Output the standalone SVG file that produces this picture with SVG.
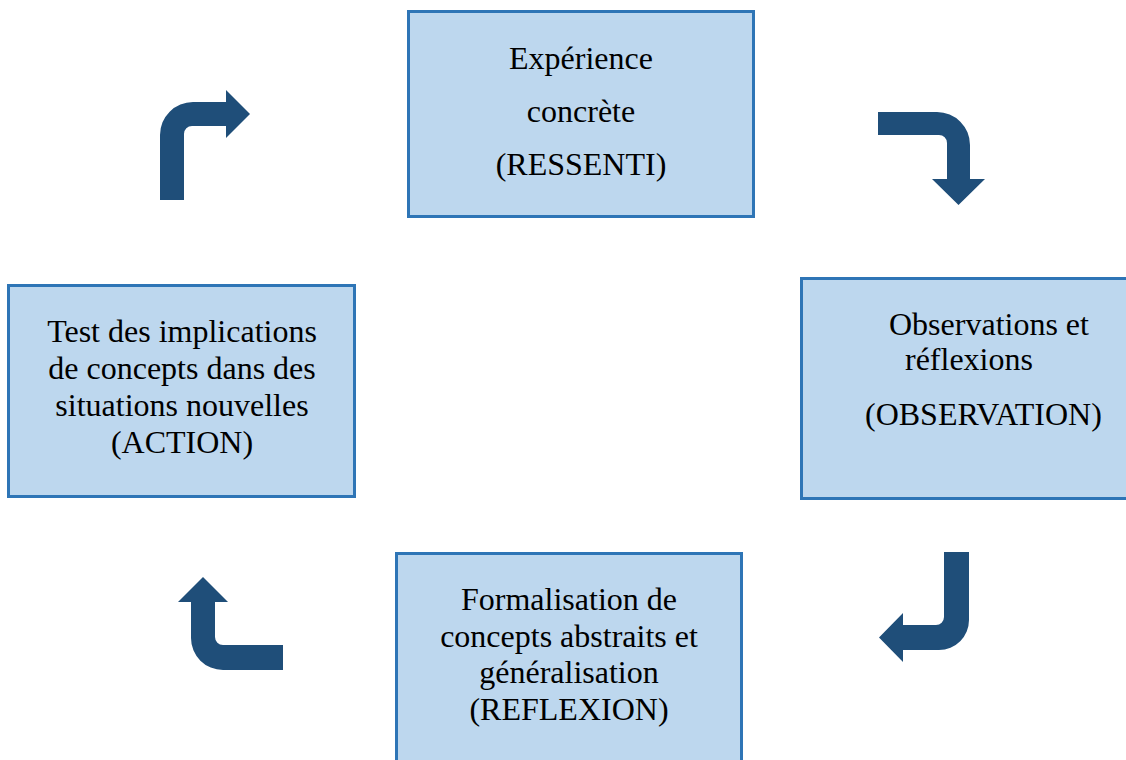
<svg xmlns="http://www.w3.org/2000/svg" width="1126" height="760" viewBox="0 0 1126 760">
<style>
.box{fill:#BDD7EE;stroke:#2E75B6;stroke-width:3}
.t{font-family:"Liberation Serif","Times New Roman",serif;font-size:32px;fill:#000}
.c{text-anchor:middle}
.arr{fill:#1F4E79;stroke:none}
</style>
<rect width="1126" height="760" fill="#fff"/>
<g id="node-ressenti">
<rect class="box" x="408.5" y="11.5" width="345" height="205"/>
<text class="t c" x="581" y="69">Expérience</text>
<text class="t c" x="581" y="122">concrète</text>
<text class="t c" x="581" y="175">(RESSENTI)</text>
</g>
<g id="node-observation">
<rect class="box" x="801.5" y="278.5" width="340" height="220"/>
<text class="t" x="889" y="335">Observations et</text>
<text class="t" x="905" y="370">réflexions</text>
<text class="t" x="865" y="425">(OBSERVATION)</text>
</g>
<g id="node-reflexion">
<rect class="box" x="396.5" y="553.5" width="345" height="220"/>
<text class="t c" x="569" y="610">Formalisation de</text>
<text class="t c" x="569" y="647">concepts abstraits et</text>
<text class="t c" x="569" y="683">généralisation</text>
<text class="t c" x="569" y="720">(REFLEXION)</text>
</g>
<g id="node-action">
<rect class="box" x="8.5" y="285.5" width="346" height="211"/>
<text class="t c" x="182" y="342">Test des implications</text>
<text class="t c" x="182" y="379">de concepts dans des</text>
<text class="t c" x="182" y="416">situations nouvelles</text>
<text class="t c" x="182" y="453">(ACTION)</text>
</g>
<g id="connectors">
<path class="arr" d="M878,112 L937,112 A33,33 0 0 1 970,145 L970,179 L985,179 L958.5,205 L932,179 L947,179 L947,143 A8,8 0 0 0 939,135 L878,135 Z"/>
<path class="arr" d="M944,552 L969,552 L969,620 A30,30 0 0 1 939,650 L903,650 L903,662 L879,637.5 L903,613 L903,625 L936,625 A8,8 0 0 0 944,617 Z"/>
<path class="arr" d="M283,645 L223,645 A8,8 0 0 1 215,637 L215,602 L228,602 L203,577 L178,602 L191,602 L191,638 A32,32 0 0 0 223,670 L283,670 Z"/>
<path class="arr" d="M160,200 L160,135 A33,33 0 0 1 193,102 L226,102 L226,90 L250,114 L226,138 L226,126 L192,126 A8,8 0 0 0 184,134 L184,200 Z"/>
</g>
</svg>
